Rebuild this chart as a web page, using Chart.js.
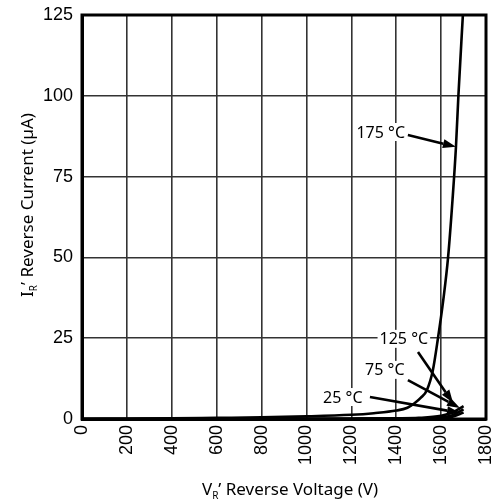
<!DOCTYPE html>
<html>
<head>
<meta charset="utf-8">
<script src="https://cdn.jsdelivr.net/npm/chart.js@4/dist/chart.umd.min.js"></script>
<style>
html,body{margin:0;padding:0;background:#fff;}
#wrap{width:498px;height:502px;}
</style>
</head>
<body>
<div id="wrap"><canvas id="irChart" width="498" height="502"></canvas></div>
<script>
// reverse voltage (V) / reverse current (uA)
let v175 = [0, 200, 400, 600, 800, 1000, 1200, 1300, 1400, 1450, 1480, 1510, 1537, 1563, 1586, 1610, 1631, 1651, 1666, 1677, 1697];
let i175 = [0, 0.1, 0.2, 0.35, 0.5, 0.8, 1.3, 1.8, 2.6, 3.5, 4.8, 6.6, 9, 15, 25, 37, 50, 68, 84, 100, 125];

let v125 = [0, 800, 1200, 1400, 1500, 1600, 1650, 1700];
let i125 = [0, 0.05, 0.1, 0.2, 0.35, 1.0, 2.0, 4.0];

let v75 = [0, 800, 1200, 1400, 1550, 1600, 1650, 1700];
let i75 = [0, 0.02, 0.05, 0.1, 0.3, 0.6, 1.2, 3.0];

let v25 = [0, 800, 1200, 1400, 1550, 1600, 1650, 1700];
let i25 = [0, 0.01, 0.02, 0.05, 0.1, 0.3, 0.7, 2.0];

let xTicks = [0, 200, 400, 600, 800, 1000, 1200, 1400, 1600, 1800];
let yTicks = [0, 25, 50, 75, 100, 125];

// callouts: label, text centre, arrow tail, arrow tip (data units)
let callouts = [
{text:"175 °C", tx:1331, ty:88.8, ax:1452, ay:87.9, bx:1666, by:84.2},
{text:"125 °C", tx:1434, ty:24.8, ax:1497, ay:20.7, bx:1653, by:5.0},
{text:"75 °C", tx:1349, ty:15.2, ax:1452, ay:12.0, bx:1684, by:3.4},
{text:"25 °C", tx:1162, ty:6.8, ax:1283, ay:6.8, bx:1684, by:1.9}
];

function pts(xs,ys){
return xs.map((x,k)=>({x:x,y:ys[k]}));
}

function curve(xs,ys){
return {
data:pts(xs,ys),
borderColor:"#000",
borderWidth:2.6,
pointRadius:0,
fill:false,
cubicInterpolationMode:"monotone"
};
}

const LABEL_FONT = "16px 'Noto Sans', sans-serif";

/* box, callouts and axis titles */
const extras = {
id:"extras",
afterDatasetsDraw(chart){
const ctx = chart.ctx;
const a = chart.chartArea;
const xs = chart.scales.x, ys = chart.scales.y;

ctx.save();
ctx.strokeStyle = "#000";
ctx.lineWidth = 3;
ctx.strokeRect(a.left, a.top, a.right-a.left, a.bottom-a.top);

ctx.font = LABEL_FONT;
ctx.textAlign = "center";
ctx.textBaseline = "middle";
callouts.forEach(c=>{
let tx = xs.getPixelForValue(c.tx), ty = ys.getPixelForValue(c.ty);
let w = ctx.measureText(c.text).width;
ctx.fillStyle = "#fff";
ctx.fillRect(tx-w/2-2, ty-9, w+4, 18);
ctx.fillStyle = "#000";
ctx.fillText(c.text, tx, ty+1);

let x1 = xs.getPixelForValue(c.ax), y1 = ys.getPixelForValue(c.ay);
let x2 = xs.getPixelForValue(c.bx), y2 = ys.getPixelForValue(c.by);
let ang = Math.atan2(y2-y1, x2-x1);
let hl = 13, hw = 4.5;
let bxp = x2 - hl*Math.cos(ang), byp = y2 - hl*Math.sin(ang);
ctx.lineWidth = 2.6;
ctx.beginPath();
ctx.moveTo(x1,y1);
ctx.lineTo(bxp,byp);
ctx.stroke();
ctx.beginPath();
ctx.moveTo(x2,y2);
ctx.lineTo(bxp + hw*Math.sin(ang), byp - hw*Math.cos(ang));
ctx.lineTo(bxp - hw*Math.sin(ang), byp + hw*Math.cos(ang));
ctx.closePath();
ctx.fill();
});

// axis titles with subscript
ctx.fillStyle = "#000";
ctx.textAlign = "left";
ctx.textBaseline = "alphabetic";
let big = "17px 'Noto Sans', sans-serif", small = "10px 'Noto Sans', sans-serif";
function titled(main, sub, rest){
ctx.font = big; let w1 = ctx.measureText(main).width;
ctx.font = small; let w2 = ctx.measureText(sub).width;
ctx.font = big; let w3 = ctx.measureText(rest).width;
let tot = w1+w2+w3, x = -tot/2;
ctx.font = big; ctx.fillText(main, x, 0);
ctx.font = small; ctx.fillText(sub, x+w1, 4);
ctx.font = big; ctx.fillText(rest, x+w1+w2, 0);
}
ctx.save();
ctx.translate(290, 495);
titled("V", "R", "\u2019 Reverse Voltage (V)");
ctx.restore();

ctx.save();
ctx.translate(33, 205);
ctx.rotate(-Math.PI/2);
titled("I", "R", "\u2019 Reverse Current (\u00b5A)");
ctx.restore();

ctx.restore();
}
};

function plain(v){ return String(v); }

window.onload = function(){
const ctx = document.getElementById("irChart").getContext("2d");
window.irChart = new Chart(ctx,{
type:"line",
data:{
datasets:[curve(v175,i175), curve(v125,i125), curve(v75,i75), curve(v25,i25)]
},
options:{
responsive:false,
animation:false,
layout:{padding:{top:15,right:12,left:0,bottom:0}},
plugins:{legend:{display:false}, tooltip:{enabled:false}},
scales:{
x:{
type:"linear",
min:0, max:1800,
afterBuildTicks(s){ s.ticks = xTicks.map(v=>({value:v})); },
afterFit(s){ s.height = 83; s.paddingLeft = 0; s.paddingRight = 0; },
ticks:{
minRotation:90, maxRotation:90,
padding:6,
color:"#000",
callback:plain,
font:{family:"'Liberation Sans', Arial, sans-serif", size:18}
},
grid:{color:"#333", lineWidth:1.6, drawTicks:false},
border:{color:"#000", width:3}
},
y:{
type:"linear",
min:0, max:125,
afterBuildTicks(s){ s.ticks = yTicks.map(v=>({value:v})); },
afterFit(s){ s.width = 82; s.paddingTop = 0; s.paddingBottom = 0; },
ticks:{
padding:9,
color:"#000",
callback:plain,
font:{family:"'Liberation Sans', Arial, sans-serif", size:18}
},
grid:{color:"#333", lineWidth:1.6, drawTicks:false},
border:{color:"#000", width:3}
}
}
},
plugins:[extras]
});
};
</script>
</body>
</html>
